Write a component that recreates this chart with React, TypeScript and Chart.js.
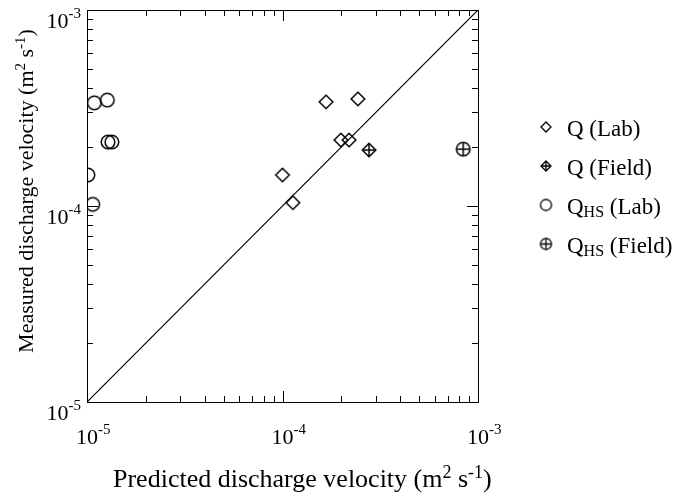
import React, { useEffect, useRef } from "react";
import { Chart, registerables } from "chart.js";

Chart.register(...registerables);

// ---- data ----
const qLabX = [1.67e-4, 2.43e-4, 1.99e-4, 2.19e-4, 1.0e-4, 1.13e-4];
const qLabY = [3.4e-4, 3.52e-4, 2.17e-4, 2.17e-4, 1.44e-4, 1.04e-4];
const qFieldX = [2.77e-4];
const qFieldY = [1.93e-4];
const qhsLabX = [1.09e-5, 1.27e-5, 1.28e-5, 1.34e-5, 1.01e-5, 1.07e-5];
const qhsLabY = [3.36e-4, 3.47e-4, 2.12e-4, 2.12e-4, 1.44e-4, 1.02e-4];
const qhsFieldX = [8.4e-4];
const qhsFieldY = [1.95e-4];
const lineX = [1e-5, 1e-3];
const lineY = [1e-5, 1e-3];

const axisMin = 1e-5;
const axisMax = 1e-3;
const majorTicks = [1e-5, 1e-4, 1e-3];
const tickExponents = ["-5", "-4", "-3"];
const legendLabels = [
  { main: "Q", sub: "", rest: " (Lab)", marker: "diamond" },
  { main: "Q", sub: "", rest: " (Field)", marker: "diamondPlus" },
  { main: "Q", sub: "HS", rest: " (Lab)", marker: "circle" },
  { main: "Q", sub: "HS", rest: " (Field)", marker: "circlePlus" },
];
const xTitleParts = ["Predicted discharge velocity (m", "2", " s", "-1", ")"];
const yTitleParts = ["Measured discharge velocity (m", "2", " s", "-1", ")"];

const FONT = '"Liberation Serif", "Times New Roman", serif';

function zip(xs: number[], ys: number[]) {
  return xs.map((x, i) => ({ x, y: ys[i] }));
}

function makeMarker(kind: string, r: number, lw: number): HTMLCanvasElement {
  const size = Math.ceil(r * 2 + 4);
  const c = document.createElement("canvas");
  c.width = size;
  c.height = size;
  const g = c.getContext("2d")!;
  const m = size / 2;
  g.strokeStyle = "#000";
  g.lineWidth = lw;
  g.beginPath();
  if (kind.startsWith("diamond")) {
    g.moveTo(m, m - r);
    g.lineTo(m + r, m);
    g.lineTo(m, m + r);
    g.lineTo(m - r, m);
    g.closePath();
  } else {
    g.arc(m, m, r, 0, Math.PI * 2);
  }
  g.stroke();
  if (kind.endsWith("Plus")) {
    g.beginPath();
    g.moveTo(m - r, m);
    g.lineTo(m + r, m);
    g.moveTo(m, m - r);
    g.lineTo(m, m + r);
    g.stroke();
  }
  return c;
}

// draws a sequence of [normal, sup, normal, sup, ...] parts; returns width
function supRun(
  ctx: CanvasRenderingContext2D,
  parts: string[],
  x: number,
  y: number,
  draw: boolean,
  size = 22
) {
  let cx = x;
  const supSize = Math.round(size * 0.68);
  const rise = Math.round(size * 0.36);
  parts.forEach((p, i) => {
    const sup = i % 2 === 1;
    ctx.font = sup ? `${supSize}px ${FONT}` : `${size}px ${FONT}`;
    if (draw) ctx.fillText(p, cx, sup ? y - rise : y);
    cx += ctx.measureText(p).width;
  });
  return cx - x;
}

const axesPlugin = {
  id: "axesPlugin",
  afterDatasetsDraw(chart: any) {
    const ctx: CanvasRenderingContext2D = chart.ctx;
    const { left, right, top, bottom } = chart.chartArea;
    const xs = chart.scales.x;
    const ys = chart.scales.y;
    ctx.save();
    ctx.strokeStyle = "#000";
    ctx.fillStyle = "#000";
    ctx.lineWidth = 1;
    ctx.strokeRect(Math.round(left) + 0.5, Math.round(top) + 0.5, Math.round(right - left), Math.round(bottom - top));

    // inward ticks on all sides
    ctx.beginPath();
    for (let k = -5; k <= -4; k++) {
      for (let m = 1; m <= 9; m++) {
        const v = m * Math.pow(10, k);
        const len = m === 1 ? 11 : 6;
        const px = Math.round(xs.getPixelForValue(v)) + 0.5;
        const py = Math.round(ys.getPixelForValue(v)) + 0.5;
        if (m !== 1 || k !== -5) {
          ctx.moveTo(px, bottom);
          ctx.lineTo(px, bottom - len);
          ctx.moveTo(px, top);
          ctx.lineTo(px, top + len);
          ctx.moveTo(left, py);
          ctx.lineTo(left + len, py);
          ctx.moveTo(right, py);
          ctx.lineTo(right - len, py);
        }
      }
    }
    ctx.stroke();

    // tick labels
    ctx.textBaseline = "middle";
    ctx.textAlign = "left";
    majorTicks.forEach((v, i) => {
      const px = xs.getPixelForValue(v);
      ctx.font = `22px ${FONT}`;
      const w10 = ctx.measureText("10").width;
      supRun(ctx, ["10", tickExponents[i]], px - w10 / 2, bottom + 36, true, 22);
      const py = ys.getPixelForValue(v);
      const w = supRun(ctx, ["10", tickExponents[i]], 0, 0, false, 22);
      supRun(ctx, ["10", tickExponents[i]], 81 - w, py + 12, true, 22);
    });

    // axis titles
    ctx.textBaseline = "alphabetic";
    supRun(ctx, xTitleParts, 113, 487, true, 26);
    const yw = supRun(ctx, yTitleParts, 0, 0, false, 22);
    ctx.save();
    ctx.translate(33, 191);
    ctx.rotate(-Math.PI / 2);
    supRun(ctx, yTitleParts, -yw / 2, 0, true, 22);
    ctx.restore();

    // legend
    const rows = [130, 169, 208, 247];
    legendLabels.forEach((l, i) => {
      const y = rows[i];
      const mk = makeMarker(l.marker, l.marker.startsWith("diamond") ? 5 : 5.5, 1.3);
      ctx.drawImage(mk, 546 - mk.width / 2, y - 3 - mk.height / 2);
      ctx.textBaseline = "middle";
      let cx = 567;
      ctx.font = `23px ${FONT}`;
      ctx.fillText(l.main, cx, y);
      cx += ctx.measureText(l.main).width;
      if (l.sub) {
        ctx.font = `16px ${FONT}`;
        ctx.fillText(l.sub, cx, y + 5);
        cx += ctx.measureText(l.sub).width;
      }
      ctx.font = `23px ${FONT}`;
      ctx.fillText(l.rest, cx, y);
    });
    ctx.restore();
  },
};

export default function App() {
  const ref = useRef<HTMLCanvasElement>(null);
  useEffect(() => {
    const canvas = ref.current!;
    const diamond = makeMarker("diamond", 6.8, 1.5);
    const diamondPlus = makeMarker("diamondPlus", 6.8, 1.5);
    const circle = makeMarker("circle", 6.8, 1.5);
    const circlePlus = makeMarker("circlePlus", 6.8, 1.5);
    const chart = new Chart(canvas, {
      type: "scatter",
      data: {
        datasets: [
          {
            label: "y = x",
            data: zip(lineX, lineY),
            showLine: true,
            borderColor: "#000",
            borderWidth: 1.2,
            pointRadius: 0,
            clip: 0,
          } as any,
          { label: "Q (Lab)", data: zip(qLabX, qLabY), pointStyle: diamond, clip: 0 } as any,
          { label: "Q (Field)", data: zip(qFieldX, qFieldY), pointStyle: diamondPlus, clip: 0 } as any,
          { label: "QHS (Lab)", data: zip(qhsLabX, qhsLabY), pointStyle: circle, clip: 0 } as any,
          { label: "QHS (Field)", data: zip(qhsFieldX, qhsFieldY), pointStyle: circlePlus, clip: 0 } as any,
        ],
      },
      options: {
        responsive: false,
        animation: false,
        devicePixelRatio: 1,
        layout: { padding: { left: 87, right: 197, top: 10, bottom: 91 } },
        plugins: { legend: { display: false }, tooltip: { enabled: false }, title: { display: false } },
        scales: {
          x: { type: "logarithmic", min: axisMin, max: axisMax, display: false },
          y: { type: "logarithmic", min: axisMin, max: axisMax, display: false },
        },
      },
      plugins: [axesPlugin],
    });
    return () => chart.destroy();
  }, []);
  return (
    <div style={{ position: "absolute", left: 0, top: 0, width: 675, height: 493, background: "#fff" }}>
      <canvas ref={ref} width={675} height={493} style={{ display: "block" }} />
    </div>
  );
}
